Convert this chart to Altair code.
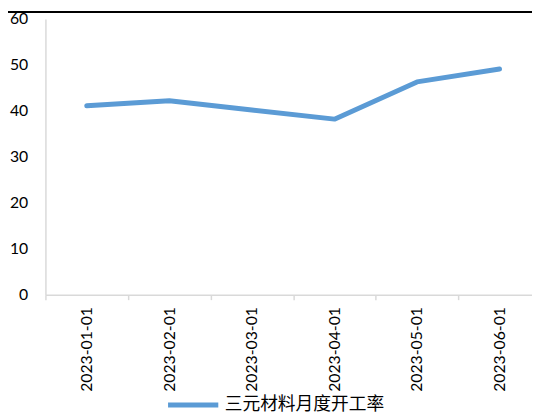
import altair as alt
import pandas as pd

dates = ["2023-01-01", "2023-02-01", "2023-03-01", "2023-04-01", "2023-05-01", "2023-06-01"]
values = [41.1, 42.2, 40.2, 38.2, 46.3, 49.1]
series_name = "三元材料月度开工率"
y_ticks = [0, 10, 20, 30, 40, 50, 60]

df = pd.DataFrame({"date": dates, "value": values, "series": [series_name] * len(dates)})

line = alt.Chart(df).mark_line(strokeWidth=5, strokeCap="round", strokeJoin="round").encode(
    x=alt.X(
        "date:N",
        sort=dates,
        bandPosition=0.5,
        scale=alt.Scale(type="band", paddingInner=0, paddingOuter=0, range=[0, 503]),
        axis=alt.Axis(
            title=None, labelAngle=-90, tickBand="extent", tickSize=5,
            tickColor="#d9d9d9", domainColor="#d9d9d9", domainWidth=1.5, tickWidth=1.5,
            labelFont="Lato", labelFontSize=16, labelColor="#000000", labelPadding=7,
        ),
    ),
    y=alt.Y(
        "value:Q",
        scale=alt.Scale(domain=[0, 60]),
        axis=alt.Axis(
            title=None, values=y_ticks, grid=False, ticks=False,
            domainColor="#d9d9d9", domainWidth=1.5,
            labelFont="Lato", labelFontSize=16, labelColor="#000000", labelPadding=18,
        ),
    ),
    color=alt.Color(
        "series:N",
        scale=alt.Scale(range=["#5B9BD5"]),
        legend=alt.Legend(
            title=None, orient="none", legendX=122, legendY=364,
            symbolType="stroke", symbolSize=2601, symbolStrokeWidth=5,
            labelFont="Noto Sans CJK SC", labelFontSize=18, labelColor="#000000",
            labelOffset=4, labelLimit=400,
        ),
    ),
)

border = alt.Chart(df).mark_rule(color="#000000", strokeWidth=2).encode(
    x=alt.value(-38), x2=alt.value(494), y=alt.value(-7)
)

chart = alt.layer(border, line).properties(
    width=494, height=280,
    autosize=alt.AutoSizeParams(type="none"),
    padding={"left": 38, "top": 8, "right": 0, "bottom": 119},
).configure_view(stroke=None)

chart.save("out.html", embed_options={"renderer": "svg", "actions": False})
